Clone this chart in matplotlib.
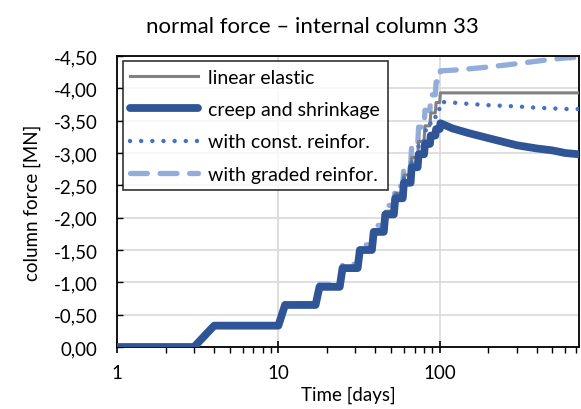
import matplotlib
matplotlib.use("Agg")
import matplotlib.pyplot as plt
from matplotlib.ticker import FixedLocator, FuncFormatter, LogLocator, NullFormatter

plt.rcParams['font.family'] = ['Lato', 'DejaVu Sans']

# ---- data ----
step_days = [3, 10, 17, 24, 31, 38, 45, 52, 59, 66, 73, 80, 87, 94, 100]
elastic_levels = [-0.33, -0.65, -0.94, -1.23, -1.52, -1.81, -2.10, -2.38, -2.66, -2.93, -3.18, -3.42, -3.62, -3.78, -3.93]
creep_levels = [-0.33, -0.65, -0.93, -1.22, -1.50, -1.78, -2.05, -2.30, -2.54, -2.78, -2.98, -3.14, -3.27, -3.37, -3.46]
const_levels = [-0.33, -0.65, -0.94, -1.23, -1.52, -1.80, -2.09, -2.36, -2.63, -2.89, -3.13, -3.35, -3.54, -3.68, -3.79]
graded_levels = [-0.34, -0.67, -0.97, -1.28, -1.58, -1.88, -2.19, -2.49, -2.80, -3.10, -3.40, -3.66, -3.90, -4.10, -4.27]

tail_days = [120, 150, 200, 300, 400, 500, 600, 730]
elastic_tail = [-3.93, -3.93, -3.93, -3.93, -3.93, -3.93, -3.93, -3.93]
creep_tail = [-3.38, -3.31, -3.23, -3.12, -3.07, -3.04, -3.00, -2.98]
const_tail = [-3.78, -3.76, -3.74, -3.72, -3.70, -3.69, -3.68, -3.68]
graded_tail = [-4.28, -4.30, -4.33, -4.38, -4.42, -4.45, -4.47, -4.48]

labels = ["linear elastic", "creep and shrinkage", "with const. reinfor.", "with graded reinfor."]
y_ticks = [0.0, -0.5, -1.0, -1.5, -2.0, -2.5, -3.0, -3.5, -4.0, -4.5]
x_ticks = [1, 10, 100]


def build(levels, tail):
    xs, ys = [1.0], [0.0]
    prev = 0.0
    for d, lv in zip(step_days, levels):
        xs += [d, d + 1]
        ys += [prev, lv]
        prev = lv
    xs += tail_days
    ys += tail
    return xs, ys


fig = plt.figure(figsize=(5.81, 4.10), dpi=100)
ax = fig.add_axes([117 / 581, 1 - 348 / 410, (579 - 117) / 581, (348 - 57) / 410])

x, y = build(graded_levels, graded_tail)
l4, = ax.plot(x, y, color="#93ACDA", lw=3.8, linestyle=(0, (3.2, 2.4)),
              dash_capstyle="round", zorder=2, label=labels[3])
x, y = build(elastic_levels, elastic_tail)
l1, = ax.plot(x, y, color="#808080", lw=2.2, zorder=3, label=labels[0])
x, y = build(const_levels, const_tail)
l3, = ax.plot(x, y, color="#4472C4", lw=3.2, linestyle=(0, (0.01, 2.5)),
              dash_capstyle="round", zorder=4, label=labels[2])
x, y = build(creep_levels, creep_tail)
l2, = ax.plot(x, y, color="#2F5597", lw=5.6, zorder=5, solid_capstyle="round",
              solid_joinstyle="round", label=labels[1])

ax.set_xscale("log")
ax.set_xlim(1, 730)
ax.set_ylim(0, -4.5)

ax.xaxis.set_major_locator(FixedLocator(x_ticks))
ax.xaxis.set_major_formatter(FuncFormatter(lambda v, p: f"{int(v)}"))
ax.xaxis.set_minor_locator(LogLocator(base=10, subs=range(2, 10)))
ax.xaxis.set_minor_formatter(NullFormatter())
ax.yaxis.set_major_locator(FixedLocator(y_ticks))
ax.yaxis.set_major_formatter(FuncFormatter(lambda v, p: f"{v:.2f}".replace(".", ",").replace("-0,00", "0,00")))

ax.grid(True, which="major", color="#D9D9D9", lw=1.2, zorder=0)
ax.set_axisbelow(True)
for s in ax.spines.values():
    s.set_color("black")
    s.set_linewidth(1.3)

ax.tick_params(axis="y", direction="in", length=4, width=1, labelsize=13.5, pad=14)
ax.tick_params(axis="x", which="major", direction="inout", length=9, width=1.2, labelsize=13.5, pad=8)
ax.tick_params(axis="x", which="minor", direction="out", length=4, width=1)

ax.set_xlabel("Time [days]", fontsize=13.5, labelpad=3)
ax.set_ylabel("column force [MN]", fontsize=13.5, labelpad=9)
fig.text(312 / 581, 1 - 27 / 410, "normal force \u2013 internal column 33",
         fontsize=16, ha="center", va="center")

leg = ax.legend(handles=[l1, l2, l3, l4], loc="upper left", bbox_to_anchor=(0.012, 0.982),
                fontsize=14, handlelength=3.5, frameon=True, fancybox=False,
                borderpad=0.4, labelspacing=0.78, handletextpad=0.5, borderaxespad=0)
leg.get_frame().set_edgecolor("black")
leg.get_frame().set_linewidth(1.2)
leg.set_zorder(10)

fig.savefig("out.png", dpi=100)
